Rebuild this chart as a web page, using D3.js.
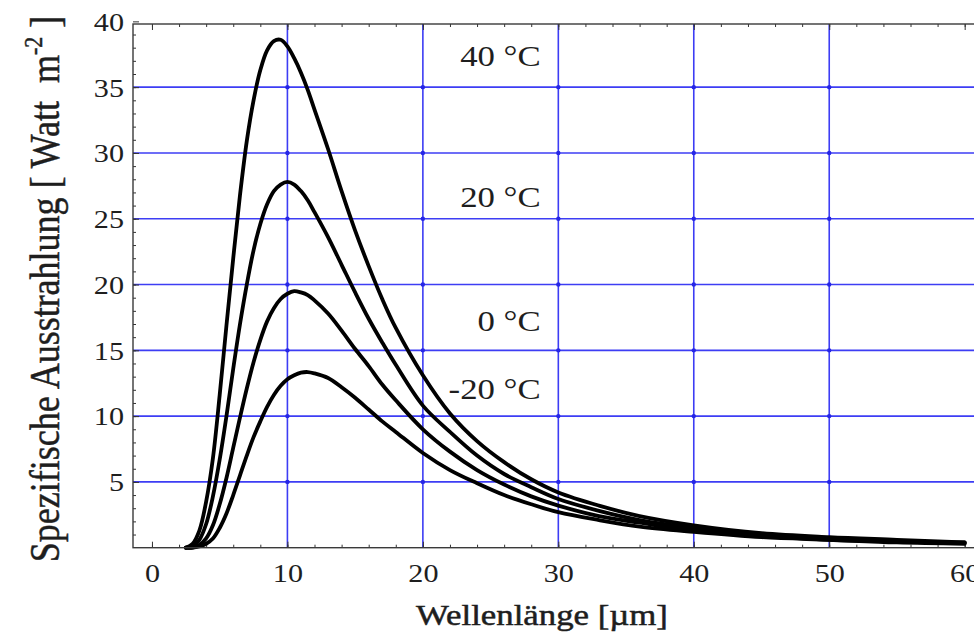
<!DOCTYPE html>
<html>
<head>
<meta charset="utf-8">
<script src="https://cdn.jsdelivr.net/npm/d3@7"></script>
<style>
  body { margin: 0; background: #fff; }
  svg { display: block; }
  text { font-family: "Liberation Serif", "Times New Roman", serif; fill: #1e1e1e; }
</style>
</head>
<body>
<svg class="chart"></svg>
<script>
// wavelength in micrometres
const wavelength = [2.5, 3, 3.5, 4, 4.5, 5, 5.5, 6, 6.5, 7, 7.5, 8, 8.5, 9, 9.5, 10, 10.5, 11, 11.5, 12,
                    13, 14, 15, 16, 17, 18, 20, 22, 24, 26, 28, 30, 33, 36, 40, 45, 50, 55, 60];

// spezifische Ausstrahlung [W m-2 per µm] for each temperature
const t40  = [0.0, 0.3, 1.3, 3.5, 6.8, 11.6, 16.9, 22.0, 26.8, 30.9, 34.0, 36.3, 37.8, 38.5, 38.6, 38.1, 37.2, 36.1, 34.8, 33.3,
              30.3, 27.1, 24.1, 21.4, 18.9, 16.7, 13.1, 10.2, 8.1, 6.5, 5.2, 4.2, 3.2, 2.4, 1.7, 1.1, 0.8, 0.6, 0.4];
const t20  = [0.0, 0.1, 0.6, 1.8, 3.9, 6.7, 10.0, 13.6, 17.0, 20.0, 22.6, 24.6, 26.1, 27.1, 27.6, 27.8, 27.6, 27.1, 26.4, 25.5,
              23.6, 21.5, 19.4, 17.4, 15.6, 13.9, 10.8, 8.8, 7.0, 5.6, 4.6, 3.7, 2.8, 2.1, 1.5, 1.0, 0.7, 0.5, 0.4];
const t0   = [0.0, 0.0, 0.2, 0.7, 1.7, 3.3, 5.3, 7.6, 9.9, 12.1, 14.1, 15.8, 17.2, 18.2, 18.9, 19.3, 19.5, 19.4, 19.2, 18.8,
              17.8, 16.5, 15.1, 13.8, 12.4, 11.2, 9.0, 7.3, 5.9, 4.8, 3.9, 3.2, 2.4, 1.9, 1.3, 0.9, 0.6, 0.5, 0.35];
const tm20 = [0.0, 0.0, 0.1, 0.3, 0.7, 1.5, 2.6, 4.0, 5.5, 7.0, 8.4, 9.6, 10.7, 11.6, 12.3, 12.8, 13.1, 13.3, 13.35, 13.25,
              12.9, 12.2, 11.4, 10.5, 9.6, 8.8, 7.2, 5.9, 4.9, 4.0, 3.3, 2.7, 2.1, 1.6, 1.2, 0.8, 0.6, 0.4, 0.3];

const seriesNames = ["40 \u00b0C", "20 \u00b0C", "0 \u00b0C", "-20 \u00b0C"];

const xTicks = [0, 10, 20, 30, 40, 50, 60];
const yTicks = [5, 10, 15, 20, 25, 30, 35, 40];
const xGrid = [10, 20, 30, 40, 50];
const yGrid = [5, 10, 15, 20, 25, 30, 35];

var width = 974, height = 635;
var frame = {left: 133, right: 985, top: 24, bottom: 547.7};
var SX = 1.16; // the picture is stretched sideways

var x = d3.scaleLinear().domain([-1.4, 61.5]).range([frame.left, frame.right]);
var y = d3.scaleLinear().domain([0, 39.8]).range([frame.bottom, frame.top]);

var svg = d3.select('.chart')
    .attr("width", width)
    .attr("height", height);

svg.append("rect")
    .attr("width", width)
    .attr("height", height)
    .attr("fill", "#fff");

// grid
var grid = svg.append("g").attr("class", "grid");

grid.selectAll("line.v")
    .data(xGrid)
  .enter().append("line")
    .attr("class", "v")
    .attr("x1", d => x(d)).attr("x2", d => x(d))
    .attr("y1", frame.top).attr("y2", frame.bottom);

grid.selectAll("line.h")
    .data(yGrid)
  .enter().append("line")
    .attr("class", "h")
    .attr("x1", frame.left).attr("x2", frame.right)
    .attr("y1", d => y(d)).attr("y2", d => y(d));

grid.selectAll("line")
    .attr("stroke", "#3d3df4")
    .attr("stroke-width", 1.6);

grid.selectAll("circle")
    .data(d3.cross(xGrid, yGrid))
  .enter().append("circle")
    .attr("cx", d => x(d[0]))
    .attr("cy", d => y(d[1]))
    .attr("r", 2.2)
    .attr("fill", "#2626e6");

// ticks, all pointing inward
var xMinor = d3.range(0, 61, 2);
var yMinor = d3.range(1, 40, 1);

const innerTicks = (g) => {
  g.select(".domain").remove();
  g.selectAll("line").attr("stroke", "#333").attr("stroke-width", 1);
};

svg.append("g")
    .attr("transform", `translate(0,${frame.bottom})`)
    .call(d3.axisBottom(x).tickValues(xMinor).tickSize(-3).tickFormat(""))
    .call(innerTicks);

svg.append("g")
    .attr("transform", `translate(0,${frame.top})`)
    .call(d3.axisTop(x).tickValues(xMinor).tickSize(-3).tickFormat(""))
    .call(innerTicks);

svg.append("g")
    .attr("transform", `translate(0,${frame.top})`)
    .call(d3.axisTop(x).tickValues(xTicks).tickSize(-6).tickFormat(""))
    .call(innerTicks);

svg.append("g")
    .attr("transform", `translate(${frame.left},0)`)
    .call(d3.axisLeft(y).tickValues(yMinor).tickSize(-3).tickFormat(""))
    .call(innerTicks);

var xAxis = svg.append("g")
    .attr("class", "x axis")
    .attr("transform", `translate(0,${frame.bottom})`)
    .call(d3.axisBottom(x).tickValues(xTicks).tickSize(-6).tickPadding(15.5))
    .call(innerTicks);

xAxis.selectAll("text")
    .attr("font-size", 26)
    .attr("transform", `scale(${SX},1)`);

var yAxis = svg.append("g")
    .attr("class", "y axis")
    .attr("transform", `translate(${frame.left},0)`)
    .call(d3.axisLeft(y).tickValues(yTicks).tickSize(-6).tickPadding(9))
    .call(innerTicks);

yAxis.selectAll("text")
    .attr("font-size", 26)
    .attr("x", -9 / SX)
    .attr("dy", "0.34em")
    .attr("transform", `scale(${SX},1)`);

d3.selectAll(".axis text").attr("fill", "#1e1e1e").attr("font-family", '"Liberation Serif", serif');

// curves
var series = [t40, t20, t0, tm20].map((vals, i) => ({name: seriesNames[i], values: vals}));

var line = d3.line()
    .x((d, i) => x(wavelength[i]))
    .y(d => y(d))
    .curve(d3.curveCatmullRom.alpha(0.5));

svg.append("g")
    .selectAll("path")
    .data(series)
  .enter().append("path")
    .attr("d", d => line(d.values))
    .attr("fill", "none")
    .attr("stroke", "#000")
    .attr("stroke-width", 3.8)
    .attr("stroke-linejoin", "round")
    .attr("stroke-linecap", "round");

// frame
svg.append("rect")
    .attr("x", frame.left)
    .attr("y", frame.top)
    .attr("width", frame.right - frame.left)
    .attr("height", frame.bottom - frame.top)
    .attr("fill", "none")
    .attr("stroke", "#3a3a3a")
    .attr("stroke-width", 1.4);

// temperature labels, right aligned
var labelX = 28.7;
var labelBase = [36.6, 25.9, 16.5, 11.3];

svg.append("g")
    .selectAll("text")
    .data(series)
  .enter().append("text")
    .attr("transform", (d, i) => `translate(${x(labelX)},${y(labelBase[i])}) scale(${SX},1)`)
    .attr("text-anchor", "end")
    .attr("font-size", 30)
    .text(d => d.name);

// axis titles
svg.append("text")
    .attr("transform", `translate(542,625) scale(${SX},1)`)
    .attr("text-anchor", "middle")
    .attr("font-size", 30)
    .attr("stroke", "#1e1e1e")
    .attr("stroke-width", 0.5)
    .text("Wellenl\u00e4nge [\u00b5m]");

var yTitle = svg.append("text")
    .attr("transform", `translate(58.5,289) scale(${SX},1) rotate(-90)`)
    .attr("text-anchor", "middle")
    .attr("font-size", 36)
    .attr("stroke", "#1e1e1e")
    .attr("stroke-width", 0.4);

yTitle.append("tspan").text("Spezifische Ausstrahlung [ Watt\u00a0\u00a0m");
yTitle.append("tspan").attr("dy", -14).attr("font-size", 22).text("-2");
yTitle.append("tspan").attr("dy", 14).text("\u00a0]");
</script>
</body>
</html>
